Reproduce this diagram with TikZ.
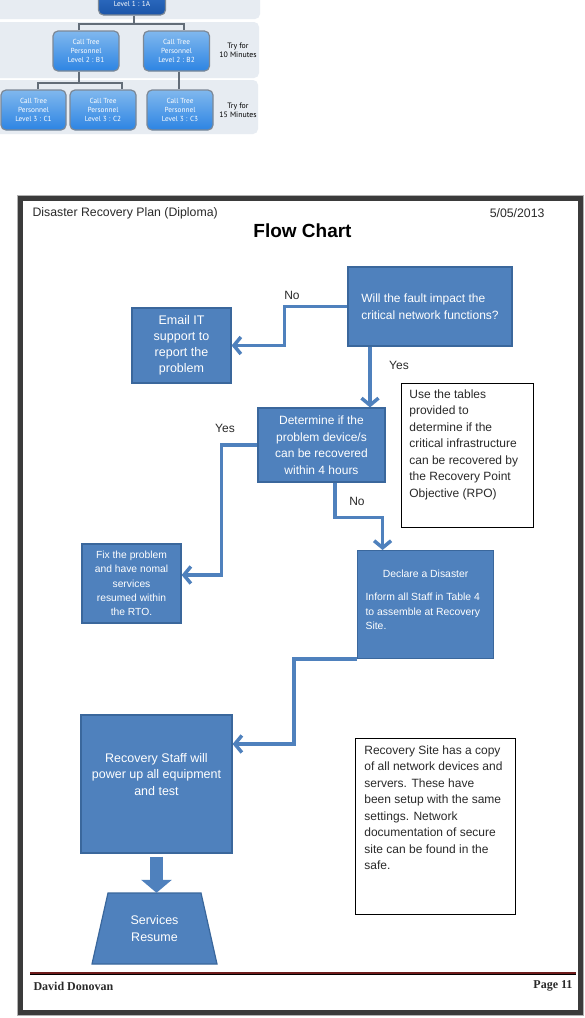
\documentclass[tikz,border=0pt]{standalone}
\usepackage{fontspec}
\setmainfont{Liberation Sans}
\newfontfamily\treefont{PT Sans}
\newfontfamily\footfont{Liberation Serif}
\usepackage{tikz}
\usetikzlibrary{arrows.meta,positioning,shapes.geometric,calc}
\usepackage{xcolor}
\definecolor{flowblue}{HTML}{4F81BD}
\definecolor{flowedge}{HTML}{3A679C}
\definecolor{bandgray}{HTML}{E7ECF2}
\definecolor{treetop}{HTML}{80B8EE}
\definecolor{treebottom}{HTML}{2D84E3}
\definecolor{treeedge}{HTML}{7C8896}
\definecolor{rootdark}{HTML}{1B55A8}
\definecolor{rootlight}{HTML}{2F6EC4}
\definecolor{framegray}{HTML}{3B3B3B}
\definecolor{footred}{HTML}{6E1C1C}
\definecolor{inkgray}{HTML}{2A2A2A}
\newcommand{\topbox}[3]{\parbox[c][#1][t]{#2}{#3}}
\tikzset{
  treebox/.style={draw=treeedge, line width=1.2pt, rounded corners=5pt, top color=treetop, bottom color=treebottom, text=white, align=center, font=\treefont\fontsize{7.3}{8.8}\selectfont, minimum width=66pt, minimum height=40pt, inner sep=1pt},
  rootbox/.style={treebox, top color=rootlight, bottom color=rootdark, minimum height=22pt},
  treeline/.style={draw=treeedge!80!black, line width=1.3pt},
  trynote/.style={font=\treefont\fontsize{7.8}{9}\selectfont, text=black, align=center},
  bluefill/.style={draw=flowedge, line width=1.2pt, fill=flowblue, text=white, inner sep=0pt, font=\fontsize{12}{16.5}\selectfont},
  flowbox/.style={bluefill, align=center},
  notebox/.style={draw=black, line width=0.8pt, fill=white, text=inkgray, inner xsep=8pt, inner ysep=0pt, font=\fontsize{12}{16.5}\selectfont},
  flowarrow/.style={draw=flowblue, line width=3.5pt, -{Straight Barb[length=7pt, width=17pt]}},
  flowlabel/.style={font=\fontsize{12}{14}\selectfont, text=inkgray},
  headtext/.style={font=\fontsize{12.3}{14}\selectfont, text=inkgray},
  foottext/.style={font=\footfont\bfseries\fontsize{12}{14}\selectfont, text=inkgray}
}

\begin{document}
\begin{tikzpicture}[x=1pt, y=-1pt]
  \useasboundingbox (0,0) rectangle (585,1018);
  \fill[white] (0,0) rectangle (585,1018);
  \fill[bandgray, rounded corners=5pt] (-6,-20) rectangle (260,19);
  \fill[bandgray, rounded corners=5pt] (-6,22) rectangle (259,78);
  \fill[bandgray, rounded corners=5pt] (-6,80) rectangle (258,134);
  \node[rootbox, minimum width=67pt] (lone) at (132,4) {Level 1 : 1A};
  \node[treebox] (bone) at (86,51) {Call Tree\\Personnel\\Level 2 : B1};
  \node[treebox] (btwo) at (176.5,51) {Call Tree\\Personnel\\Level 2 : B2};
  \node[treebox, minimum width=65pt] (cone) at (33.5,110) {Call Tree\\Personnel\\Level 3 : C1};
  \node[treebox] (ctwo) at (103,110) {Call Tree\\Personnel\\Level 3 : C2};
  \node[treebox] (cthree) at (180,110) {Call Tree\\Personnel\\Level 3 : C3};
  \node[trynote] (tryten) at (238,50) {Try for\\10 Minutes};
  \node[trynote] (tryfifteen) at (238,110) {Try for\\15 Minutes};
  \coordinate (jone) at (134,24);
  \coordinate (jtwo) at (79,83);
  \draw[treeline] ([xshift=2pt]lone.south) -- (jone);
  \draw[treeline] ([xshift=-7pt]bone.north) |- (jone) -| ([xshift=7.5pt]btwo.north);
  \draw[treeline] ([xshift=-7pt]bone.south) -- (jtwo);
  \draw[treeline] ([xshift=4.5pt]cone.north) |- (jtwo) -| ([xshift=19pt]ctwo.north);
  \draw[treeline] ([xshift=2.5pt]btwo.south) -- ([xshift=2.5pt]btwo.south |- cthree.north);

  \draw[gray!60, line width=1pt] (17.5,195.5) rectangle (583.5,1015);
  \draw[framegray, line width=5pt] (20.5,198.5) rectangle (580.5,1012.5);
  \node[headtext, anchor=west] (doctitle) at (29,213) {Disaster Recovery Plan (Diploma)};
  \node[headtext, anchor=east] (docdate) at (548,213) {5/05/2013};
  \node[font=\bfseries\fontsize{19}{22}\selectfont, text=black] (charttitle) at (302.5,231) {Flow Chart};

  \node[flowbox, align=left, minimum width=164pt, minimum height=79pt] (fault) at (430,306.5) {Will the fault impact the\\critical network functions?};
  \node[flowbox, minimum width=99pt, minimum height=75pt, font=\fontsize{12.5}{16}\selectfont] (email) at (181.5,345.5) {Email IT\\support to\\report the\\problem};
  \node[flowbox, minimum width=127pt, minimum height=74pt] (recover) at (321.5,445) {Determine if the\\problem device/s\\can be recovered\\within 4 hours};
  \node[notebox, anchor=north west] (rpo) at (401,383) {\topbox{144pt}{116pt}{\raggedright\vspace*{6pt}Use the tables\\provided to\\determine if the\\critical infrastructure\\can be recovered by\\the Recovery Point\\Objective (RPO)}};
  \node[flowbox, minimum width=99pt, minimum height=79pt, font=\fontsize{10.3}{14.2}\selectfont] (fix) at (131.5,583.5) {Fix the problem\\and have nomal\\services\\resumed within\\the RTO.};
  \node[bluefill, inner xsep=8pt, anchor=north west, font=\fontsize{10.4}{14.5}\selectfont] (disaster) at (357,550) {\topbox{108pt}{120pt}{\vspace*{19pt}{\centering Declare a Disaster\par}\vspace{9pt}\raggedright Inform all Staff in Table 4\\to assemble at Recovery\\Site.}};
  \node[bluefill, inner xsep=0pt, font=\fontsize{12.5}{16.5}\selectfont] (staff) at (156.5,784) {\topbox{138pt}{151pt}{\centering\vspace*{38pt}Recovery Staff will\\power up all equipment\\and test}};
  \node[notebox, anchor=north west, inner xsep=9pt] (site) at (355,738) {\topbox{176pt}{142pt}{\raggedright\vspace*{7pt}Recovery Site has a copy\\of all network devices and\\servers. These have\\been setup with the same\\settings. Network\\documentation of secure\\site can be found in the\\safe.}};
  \filldraw[draw=flowedge, line width=1.2pt, fill=flowblue] (108,893) -- (201,893) -- (217,964) -- (92,964) -- cycle;
  \node[text=white, align=center, minimum width=90pt, minimum height=71pt, inner sep=0pt, font=\fontsize{12.5}{16.5}\selectfont] (resume) at (154.5,928.5) {Services\\Resume};

  \draw[flowarrow] (fault.west) -- ++(-63,0) |- (email.east);
  \draw[flowarrow] ([xshift=-60pt]fault.south) -- ([xshift=-60pt]fault.south |- recover.north);
  \draw[flowarrow] (recover.west) -- ++(-36,0) |- ([yshift=8.5pt]fix.east);
  \draw[flowarrow] ([xshift=13.5pt]recover.south) -- ++(0,35) -| ([xshift=-43pt]disaster.north);
  \draw[flowarrow] (disaster.south west) -- ++(-63,0) |- ([yshift=40pt]staff.east);
  \draw[flowblue, line width=13pt, -{Triangle[width=30pt, length=13pt]}] ([yshift=-3pt]staff.south) -- (staff.south |- resume.north);
  \node[flowlabel] (nofault) at (292,295) {No};
  \node[flowlabel] (yesfault) at (399,365) {Yes};
  \node[flowlabel] (yesrecover) at (225,428) {Yes};
  \node[flowlabel] (norecover) at (357,501) {No};

  \coordinate (footleft) at (30,973);
  \coordinate (footright) at (576,973);
  \draw[footred, line width=2.5pt] (footleft) -- (footright);
  \draw[black, line width=0.8pt] ([yshift=-1.8pt]footleft) -- ([yshift=-1.8pt]footright);
  \node[foottext, anchor=west] (author) at (30,986) {David Donovan};
  \node[foottext, anchor=east] (pagenum) at (576,986) {Page 11};
\end{tikzpicture}
\end{document}
